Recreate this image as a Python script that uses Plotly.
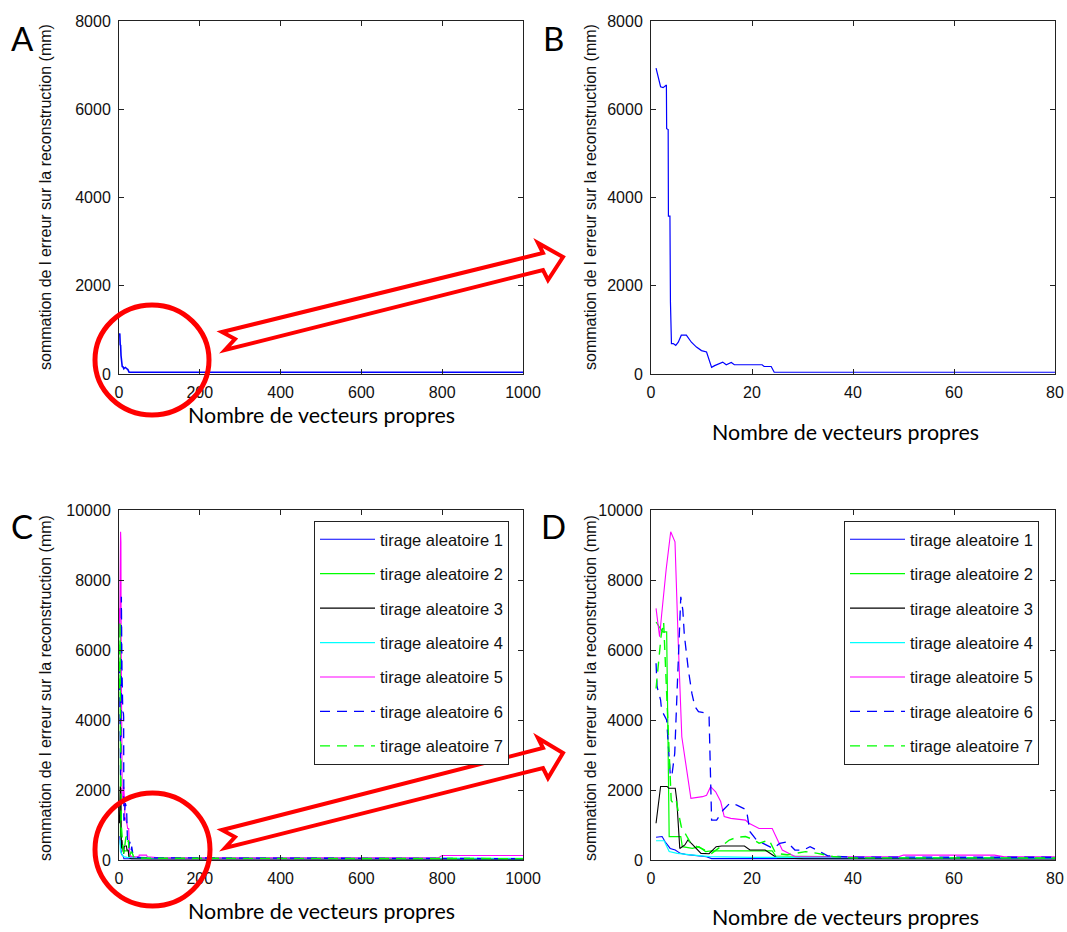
import plotly.graph_objects as go

# ---------------- data ----------------
# Panel A (single run, 1..1000 eigenvectors)
a_x = [1, 2, 3, 4, 5, 6, 8, 10, 12, 14, 16, 18, 20, 22, 25, 1000]
a_y = [920, 900, 660, 650, 420, 220, 170, 160, 120, 140, 150, 130, 110, 100, 40, 40]

# Panel B (zoom 0..80)
b_x = [1, 1.5, 1.9, 2.4, 2.9, 3.05, 3.1, 3.4, 3.45, 3.75, 3.85, 4.05, 4.4, 4.9, 5.4, 6, 7, 8, 9, 10,
       11, 11.3, 12, 12.6, 13.6, 14.2, 14.9, 15.9, 16.5, 22, 22.4, 23.8, 24.4, 80]
b_y = [6930, 6700, 6510, 6490, 6550, 6550, 5560, 5540, 3580, 3580, 1640, 690, 690, 650, 720, 880, 880, 720, 610, 530,
       500, 380, 150, 190, 230, 270, 210, 260, 210, 210, 170, 170, 40, 40]

# Panels C / D : seven random draws
t1_x = [1, 2.2, 2.8, 3.8, 4.8, 5.8, 6.8, 8.4, 11, 12, 13, 80, 1000]
t1_y = [650, 670, 520, 330, 285, 190, 160, 140, 95, 40, 40, 30, 30]

t2_x = [1, 1.5, 2.3, 3.1, 3.6, 4.2, 5.9, 6.2, 8.2, 9.5, 10.8, 12, 24, 24.7, 34.5, 40, 80, 1000]
t2_y = [6800, 6700, 6520, 6520, 670, 670, 670, 380, 330, 380, 240, 260, 260, 115, 100, 60, 50, 40]

t3_x = [1, 1.9, 3.2, 3.5, 4.3, 4.8, 5.1, 5.4, 5.7, 6.7, 7.3, 8, 8.9, 9.9, 11.5, 12.9, 14, 18.5, 19.6, 22.6,
        24.4, 25, 30, 80, 1000]
t3_y = [1050, 2100, 2100, 2050, 2050, 2050, 1710, 950, 330, 430, 570, 475, 330, 190, 180, 380, 400, 400, 285, 285,
        115, 60, 40, 30, 30]

t4_x = [1, 2.6, 3.6, 5.2, 8.4, 11.7, 20, 80, 1000]
t4_y = [550, 550, 240, 190, 140, 95, 76, 60, 50]

t5_x = [1, 1.7, 2.1, 3, 3.9, 4.75, 5.4, 6.1, 7.9, 10.2, 11, 11.8, 12.8, 13.8, 14.5, 15.8, 18.7, 19.4, 21.4, 24,
        26, 28.6, 40, 49, 50, 68, 70, 80, 100, 790, 800, 1000]
t5_y = [7190, 6380, 7000, 8300, 9380, 9090, 6190, 3520, 1760, 1810, 1850, 2095, 1950, 1670, 1240, 1190, 1140, 1050, 900, 900,
        285, 95, 90, 90, 140, 140, 90, 80, 60, 60, 130, 130]

t6_x = [1, 1.2, 1.9, 2.1, 3.1, 3.4, 3.8, 4.1, 4.7, 5.2, 5.6, 5.9, 6.3, 6.6, 7.4, 8.1, 8.7, 9.4, 11, 11.5,
        12, 13, 14.3, 15.6, 17, 18.9, 19.6, 20.9, 22.2, 24.2, 25.5, 26.9, 28.5, 30.2, 31.5, 32.8, 35, 40, 80, 1000]
t6_y = [5620, 4950, 4570, 4280, 4000, 3240, 2480, 2380, 3050, 4950, 6660, 7520, 7140, 6430, 5430, 4760, 4380, 4240, 4190, 4090,
        1140, 1140, 1430, 1620, 1570, 1430, 810, 570, 476, 330, 476, 520, 285, 285, 380, 285, 120, 80, 60, 40]

t7_x = [1, 1.5, 2, 2.5, 3, 3.5, 4, 4.5, 5, 5.5, 6, 7, 8, 10, 12, 14, 15.5, 17, 18.7, 20,
        21.4, 23.4, 24.7, 27, 30.6, 33, 36, 40, 80, 1000]
t7_y = [4900, 5600, 6400, 6800, 5000, 3000, 1700, 1600, 1700, 1300, 950, 700, 450, 330, 190, 400, 570, 650, 670, 600,
        480, 570, 190, 150, 240, 190, 100, 60, 50, 40]

draw_names = ["tirage aleatoire 1", "tirage aleatoire 2", "tirage aleatoire 3", "tirage aleatoire 4",
              "tirage aleatoire 5", "tirage aleatoire 6", "tirage aleatoire 7"]
draw_x = [t1_x, t2_x, t3_x, t4_x, t5_x, t6_x, t7_x]
draw_y = [t1_y, t2_y, t3_y, t4_y, t5_y, t6_y, t7_y]
draw_colors = ["#0000FF", "#00FF00", "#000000", "#00FFFF", "#FF00FF", "#0000FF", "#00FF00"]
draw_dash = ["solid", "solid", "solid", "solid", "solid", "10px,7px", "10px,7px"]
draw_width = [1.1, 1.2, 1.1, 1.2, 1.1, 1.3, 1.4]

panel_letters = ["A", "B", "C", "D"]
x_title = "Nombre de vecteurs propres"
y_title = "sommation de l erreur sur la reconstruction (mm)"
ticks_big = [0, 200, 400, 600, 800, 1000]
ticks_small = [0, 20, 40, 60, 80]
ticks_8k = [0, 2000, 4000, 6000, 8000]
ticks_10k = [0, 2000, 4000, 6000, 8000, 10000]

# ---------------- layout helpers ----------------
W, H = 1067, 932
def X(px):
    return px / W
def Y(py):
    return 1 - py / H

fig = go.Figure()

fig.add_trace(go.Scatter(x=a_x, y=a_y, mode="lines", line=dict(color="#0000FF", width=1.6),
                         showlegend=False, xaxis="x", yaxis="y"))
fig.add_trace(go.Scatter(x=b_x, y=b_y, mode="lines", line=dict(color="#0000FF", width=1.2),
                         showlegend=False, xaxis="x2", yaxis="y2"))

for i in range(7):
    fig.add_trace(go.Scatter(x=draw_x[i], y=draw_y[i], mode="lines", name=draw_names[i],
                             line=dict(color=draw_colors[i], width=draw_width[i], dash=draw_dash[i]),
                             xaxis="x3", yaxis="y3", legend="legend", legendgroup="c%d" % i))
for i in range(7):
    fig.add_trace(go.Scatter(x=draw_x[i], y=draw_y[i], mode="lines", name=draw_names[i],
                             line=dict(color=draw_colors[i], width=draw_width[i], dash=draw_dash[i]),
                             xaxis="x4", yaxis="y4", legend="legend2", legendgroup="d%d" % i))

tickfont = dict(family="Liberation Sans, Arial, sans-serif", size=16, color="#111")
common = dict(showline=True, linecolor="#222", linewidth=1, mirror="ticks", ticks="inside",
              ticklen=5, tickcolor="#222", showgrid=False, zeroline=False, tickfont=tickfont,
              ticklabelstandoff=4, fixedrange=True, automargin=False)

def tk(vals):
    return dict(tickvals=vals, ticktext=[str(v) for v in vals])

dom_left = [X(119), X(523)]
dom_right = [X(651), X(1055)]
dom_top = [Y(374), Y(21)]
dom_bot = [Y(860), Y(510)]

fig.update_layout(
    template="none",
    width=W, height=H, autosize=False,
    margin=dict(l=0, r=0, t=0, b=0, pad=0, autoexpand=False),
    paper_bgcolor="white", plot_bgcolor="white",
    xaxis=dict(domain=dom_left, anchor="y", range=[0, 1000], **tk(ticks_big), **common),
    yaxis=dict(domain=dom_top, anchor="x", range=[0, 8000], **tk(ticks_8k), **common),
    xaxis2=dict(domain=dom_right, anchor="y2", range=[0, 80], **tk(ticks_small), **common),
    yaxis2=dict(domain=dom_top, anchor="x2", range=[0, 8000], **tk(ticks_8k), **common),
    xaxis3=dict(domain=dom_left, anchor="y3", range=[0, 1000], **tk(ticks_big), **common),
    yaxis3=dict(domain=dom_bot, anchor="x3", range=[0, 10000], **tk(ticks_10k), **common),
    xaxis4=dict(domain=dom_right, anchor="y4", range=[0, 80], **tk(ticks_small), **common),
    yaxis4=dict(domain=dom_bot, anchor="x4", range=[0, 10000], **tk(ticks_10k), **common),
)

legend_style = dict(font=dict(family="Liberation Sans, Arial, sans-serif", size=16.5, color="#111"),
                    bordercolor="#222", borderwidth=1, bgcolor="white",
                    xanchor="left", yanchor="top", tracegroupgap=10, itemwidth=55)
fig.update_layout(legend=dict(x=X(314), y=Y(521), **legend_style),
                  legend2=dict(x=X(844), y=Y(521), **legend_style))

ann = []
letter_pos = [(22, 38), (553, 38), (22, 526), (553, 526)]
for letter, (px, py) in zip(panel_letters, letter_pos):
    ann.append(dict(text=letter, x=X(px), y=Y(py), xref="paper", yref="paper", showarrow=False,
                    xanchor="center", yanchor="middle",
                    font=dict(family="Lato, Carlito, sans-serif", size=33, color="black")))
xt_pos = [(321, 415), (845, 432), (321, 911), (845, 917)]
for px, py in xt_pos:
    ann.append(dict(text=x_title, x=X(px), y=Y(py), xref="paper", yref="paper", showarrow=False,
                    xanchor="center", yanchor="middle",
                    font=dict(family="Lato, Carlito, sans-serif", size=21.4, color="black")))
yt_pos = [(45, 197), (590, 197), (45, 688), (590, 688)]
for px, py in yt_pos:
    ann.append(dict(text=y_title, x=X(px), y=Y(py), xref="paper", yref="paper", showarrow=False,
                    xanchor="center", yanchor="middle", textangle=-90,
                    font=dict(family="Liberation Sans, Arial, sans-serif", size=16, color="#111")))
fig.update_layout(annotations=ann)

def path(points):
    s = "M %f,%f " % (X(points[0][0]), Y(points[0][1]))
    for p in points[1:]:
        s += "L %f,%f " % (X(p[0]), Y(p[1]))
    return s + "Z"

arrow_top = [(222, 332), (543, 253), (538, 243), (563, 257), (548, 280), (543, 270), (225, 350), (235, 339)]
arrow_bot = [(222, 830), (543, 748), (538, 738), (563, 753), (548, 778), (543, 768), (225, 848), (235, 837)]
shapes = [
    dict(type="circle", xref="paper", yref="paper", x0=X(95), x1=X(209), y0=Y(415), y1=Y(305),
         line=dict(color="#FF0000", width=5), layer="above"),
    dict(type="circle", xref="paper", yref="paper", x0=X(95), x1=X(210), y0=Y(906), y1=Y(793),
         line=dict(color="#FF0000", width=5), layer="above"),
    dict(type="path", xref="paper", yref="paper", path=path(arrow_top),
         line=dict(color="#FF0000", width=4), layer="above"),
    dict(type="path", xref="paper", yref="paper", path=path(arrow_bot),
         line=dict(color="#FF0000", width=4), layer="above"),
]
fig.update_layout(shapes=shapes)

pin_js = ("var d=document.getElementById('{plot_id}');"
          "document.documentElement.style.margin='0';document.body.style.margin='0';"
          "document.documentElement.style.overflow='hidden';document.body.style.overflow='hidden';"
          "d.style.position='absolute';d.style.left='0px';d.style.top='0px';")

fig.write_html("out.html", post_script=pin_js, config={"displayModeBar": False})
